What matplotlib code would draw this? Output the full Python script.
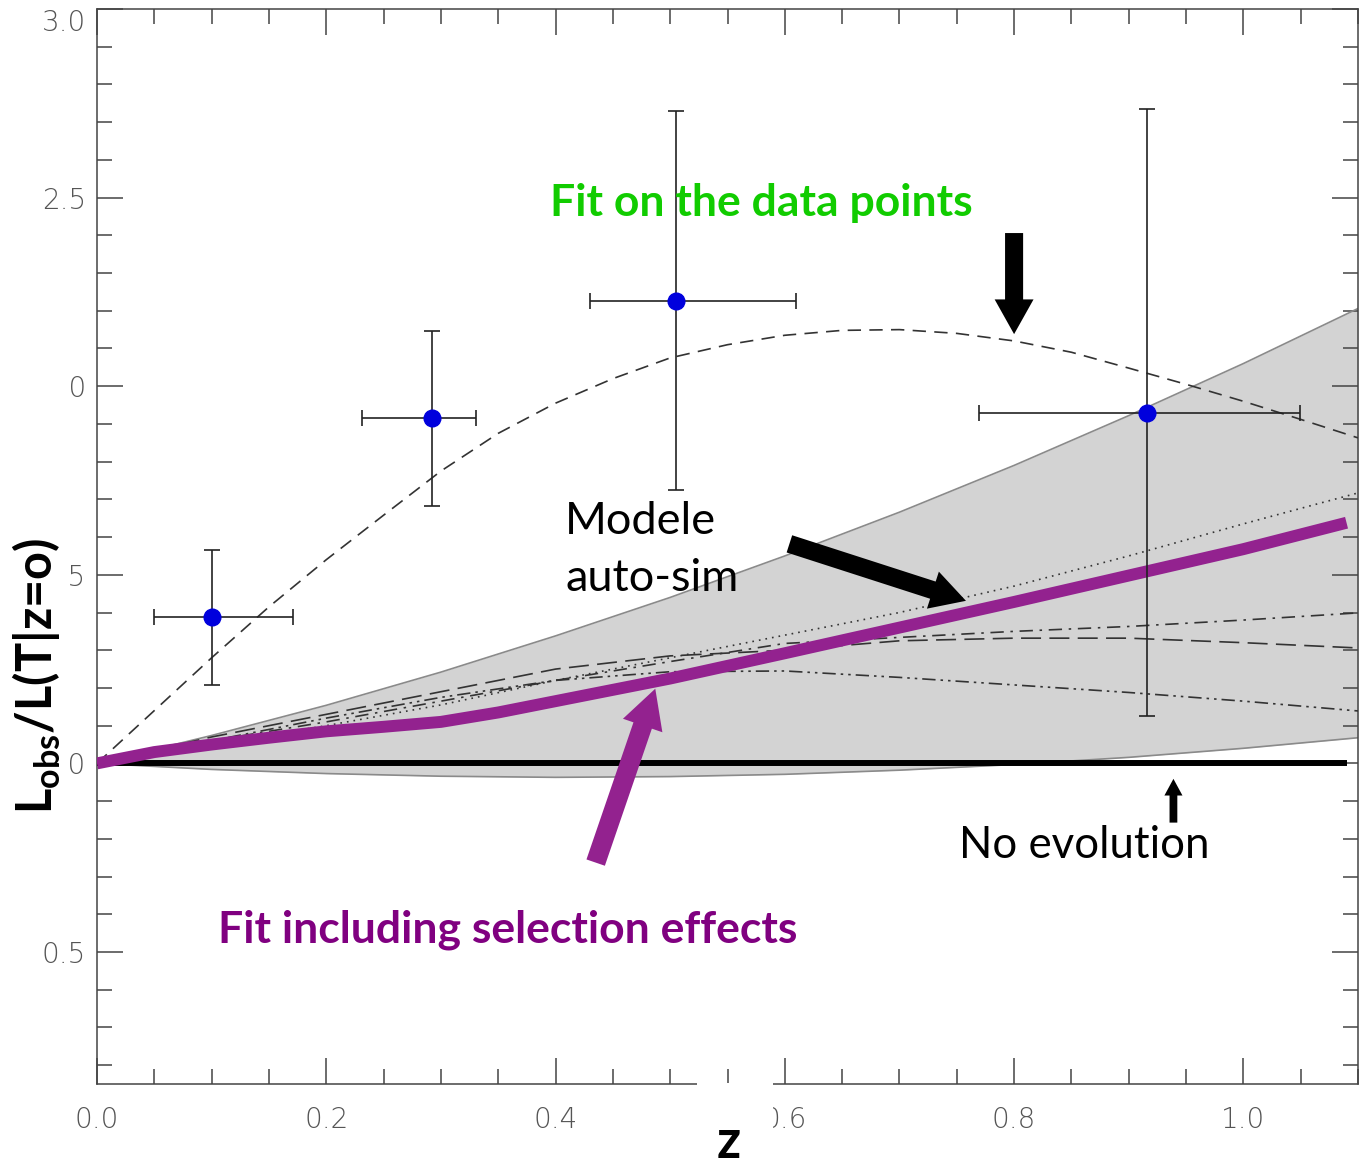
import matplotlib
matplotlib.use("Agg")
import matplotlib.pyplot as plt
from matplotlib.patches import Rectangle
from matplotlib.ticker import MultipleLocator

plt.rcParams["mathtext.fontset"] = "custom"
plt.rcParams["mathtext.bf"] = "Lato:bold"
plt.rcParams["mathtext.rm"] = "Lato"

# ---- measured points (redshift, luminosity ratio) with asymmetric bounds ----
z_pts = [0.100, 0.292, 0.505, 0.916]
L_pts = [1.388, 1.916, 2.226, 1.929]
z_lo = [0.050, 0.231, 0.430, 0.769]
z_hi = [0.171, 0.331, 0.610, 1.049]
L_lo = [1.208, 1.683, 1.725, 1.126]
L_hi = [1.566, 2.146, 2.729, 2.734]

# ---- model envelope (grey band) ----
z_band = [0.0, 0.1, 0.2, 0.3, 0.4, 0.5, 0.6, 0.7, 0.8, 0.9, 1.0, 1.1]
band_upper = [1.000, 1.074, 1.154, 1.242, 1.338, 1.440, 1.550, 1.666, 1.790, 1.922, 2.060, 2.206]
band_lower = [1.000, 0.984, 0.973, 0.966, 0.963, 0.965, 0.971, 0.982, 0.997, 1.016, 1.040, 1.068]

# ---- individual self-similar model tracks ----
z_mod = [0.0, 0.1, 0.2, 0.3, 0.4, 0.5, 0.6, 0.7, 0.8, 0.9, 1.0, 1.1]
mod_dotted = [1.000, 1.050, 1.100, 1.155, 1.220, 1.280, 1.340, 1.400, 1.470, 1.550, 1.635, 1.717]
mod_dashdot = [1.000, 1.060, 1.110, 1.165, 1.220, 1.270, 1.318, 1.334, 1.350, 1.363, 1.380, 1.399]
mod_longdash = [1.000, 1.070, 1.130, 1.190, 1.250, 1.285, 1.300, 1.325, 1.332, 1.332, 1.320, 1.306]
mod_dashdotdot = [1.000, 1.060, 1.120, 1.175, 1.220, 1.243, 1.245, 1.228, 1.208, 1.188, 1.165, 1.139]

# ---- fit to the data points ----
z_fit = [0.0, 0.05, 0.1, 0.15, 0.2, 0.25, 0.3, 0.35, 0.4, 0.45, 0.5, 0.55,
         0.6, 0.65, 0.7, 0.75, 0.8, 0.85, 0.9, 0.95, 1.0, 1.05, 1.1]
L_fit = [1.000, 1.140, 1.280, 1.415, 1.540, 1.658, 1.775, 1.875, 1.955, 2.020, 2.075, 2.110,
         2.135, 2.148, 2.150, 2.140, 2.120, 2.090, 2.048, 2.005, 1.960, 1.912, 1.863]

# ---- fit including selection effects ----
z_sel = [0.0, 0.05, 0.1, 0.15, 0.2, 0.25, 0.3, 0.35, 0.4, 0.5, 0.6, 0.7, 0.8, 0.9, 1.0, 1.09]
L_sel = [1.000, 1.030, 1.050, 1.068, 1.085, 1.097, 1.110, 1.135, 1.165, 1.225, 1.292, 1.360, 1.428, 1.498, 1.568, 1.638]

# ---- no-evolution reference ----
z_noev = [0.0, 1.09]
L_noev = [1.0, 1.0]

y_ticks = [0.5, 1.0, 1.5, 2.0, 2.5, 3.0]
x_ticks = [0.0, 0.2, 0.4, 0.6, 0.8, 1.0]

W, H = 1360, 1167
fig = plt.figure(figsize=(W / 100, H / 100), dpi=100)
ax = fig.add_axes([97 / W, 1 - 1084 / H, (1358 - 97) / W, (1084 - 9) / H])

ax.set_xlim(0.0, 1.1)
ax.set_ylim(0.15, 3.0)

# grey envelope
ax.fill_between(z_band, band_lower, band_upper, color="#d3d3d3", lw=0, zorder=1)
ax.plot(z_band, band_upper, color="#8a8a8a", lw=1.2, zorder=2)
ax.plot(z_band, band_lower, color="#8a8a8a", lw=1.2, zorder=2)

# model tracks
mc = "#333333"
ax.plot(z_mod, mod_dotted, color=mc, lw=1.2, ls=(0, (1, 3)), zorder=3)
ax.plot(z_mod, mod_dashdot, color=mc, lw=1.2, ls=(0, (8, 4, 1.5, 4)), zorder=3)
ax.plot(z_mod, mod_longdash, color=mc, lw=1.2, ls=(0, (12, 5)), zorder=3)
ax.plot(z_mod, mod_dashdotdot, color=mc, lw=1.2, ls=(0, (8, 3, 1.5, 3, 1.5, 3)), zorder=3)

# fit on data points
ax.plot(z_fit, L_fit, color="#333333", lw=1.2, ls=(0, (8, 5)), zorder=3)

# no evolution line
ax.plot(z_noev, L_noev, color="black", lw=4.3, solid_capstyle="butt", zorder=4)

# fit with selection effects
ax.plot(z_sel, L_sel, color="#93228f", lw=8.6, solid_capstyle="butt", zorder=5)

# data points
xerr = [[z - lo for z, lo in zip(z_pts, z_lo)], [hi - z for z, hi in zip(z_pts, z_hi)]]
yerr = [[L - lo for L, lo in zip(L_pts, L_lo)], [hi - L for L, hi in zip(L_pts, L_hi)]]
ax.errorbar(z_pts, L_pts, xerr=xerr, yerr=yerr, fmt="o", ms=12, mfc="#0000dd",
            mec="#0000dd", ecolor="#222222", elinewidth=1.2, capsize=6,
            capthick=1.2, zorder=6)

# axes styling
ax.xaxis.set_minor_locator(MultipleLocator(0.05))
ax.yaxis.set_minor_locator(MultipleLocator(0.1))
ax.set_xticks(x_ticks)
ax.set_yticks(y_ticks)
ax.set_xticklabels([f"{v:.1f}" for v in x_ticks])
ax.set_yticklabels([f"{v:.1f}" for v in y_ticks])
ax.tick_params(which="both", direction="in", top=True, right=True, color="#444444", width=1.1)
ax.tick_params(which="major", length=19)
ax.tick_params(which="minor", length=10.5)
ax.tick_params(axis="x", pad=16, labelsize=20, labelcolor="#555555")
ax.tick_params(axis="y", pad=8, labelsize=20, labelcolor="#555555")
for lbl in ax.get_xticklabels() + ax.get_yticklabels():
    lbl.set_fontweight("light")
# keep the topmost y label inside the canvas
ax.get_yticklabels()[-1].set_verticalalignment("top")
for sp in ax.spines.values():
    sp.set_color("#444444")
    sp.set_linewidth(1.1)

# arrows
def arrow(tail, tip, color, tw, hw, hl):
    ax.annotate("", xy=tip, xytext=tail,
                arrowprops=dict(arrowstyle=f"simple,head_length={hl},head_width={hw},tail_width={tw}",
                                fc=color, ec=color, lw=0, shrinkA=0, shrinkB=0,
                                mutation_scale=20), zorder=7)

arrow((0.800, 2.406), (0.800, 2.138), "black", 0.65, 1.4, 1.25)
arrow((0.604, 1.582), (0.758, 1.431), "black", 0.65, 1.4, 1.25)
arrow((0.939, 0.843), (0.939, 0.959), "black", 0.28, 0.65, 0.6)
arrow((0.435, 0.737), (0.487, 1.198), "#93228f", 0.7, 1.5, 1.4)

# annotations
ax.text(0.3955, 2.451, "Fit on the data points", color="#11cc00", fontsize=32,
        fontweight="bold", family="Lato", ha="left", va="baseline", zorder=8)
ax.text(0.4085, 1.608, "Modele", color="black", fontsize=32.5, family="Lato",
        ha="left", va="baseline", zorder=8)
ax.text(0.4085, 1.457, "auto-sim", color="black", fontsize=32.5, family="Lato",
        ha="left", va="baseline", zorder=8)
ax.text(0.7517, 0.750, "No evolution", color="black", fontsize=31.5, family="Lato",
        ha="left", va="baseline", zorder=8)
ax.text(0.1054, 0.525, "Fit including selection effects", color="#800080", fontsize=32,
        fontweight="bold", family="Lato", ha="left", va="baseline", zorder=8)

# axis titles on white panels
fig.add_artist(Rectangle((0, 1 - 840 / H), 67 / W, 540 / H, transform=fig.transFigure,
                         fc="white", ec="none", zorder=5))
fig.text(37 / W, 1 - 676 / H, r"$\mathbf{L}_{\mathbf{obs}}$/L(T|z=o)", rotation=90,
         fontsize=35, fontweight="bold", family="Lato", ha="center", va="center", zorder=6)
fig.add_artist(Rectangle((697 / W, 0), 76 / W, 84 / H, transform=fig.transFigure,
                         fc="white", ec="none", zorder=5))
fig.text(729 / W, 1 - 1143 / H, "z", fontsize=38, fontweight="bold", family="Lato",
         ha="center", va="center", zorder=6)

fig.savefig("out.png", dpi=100)
